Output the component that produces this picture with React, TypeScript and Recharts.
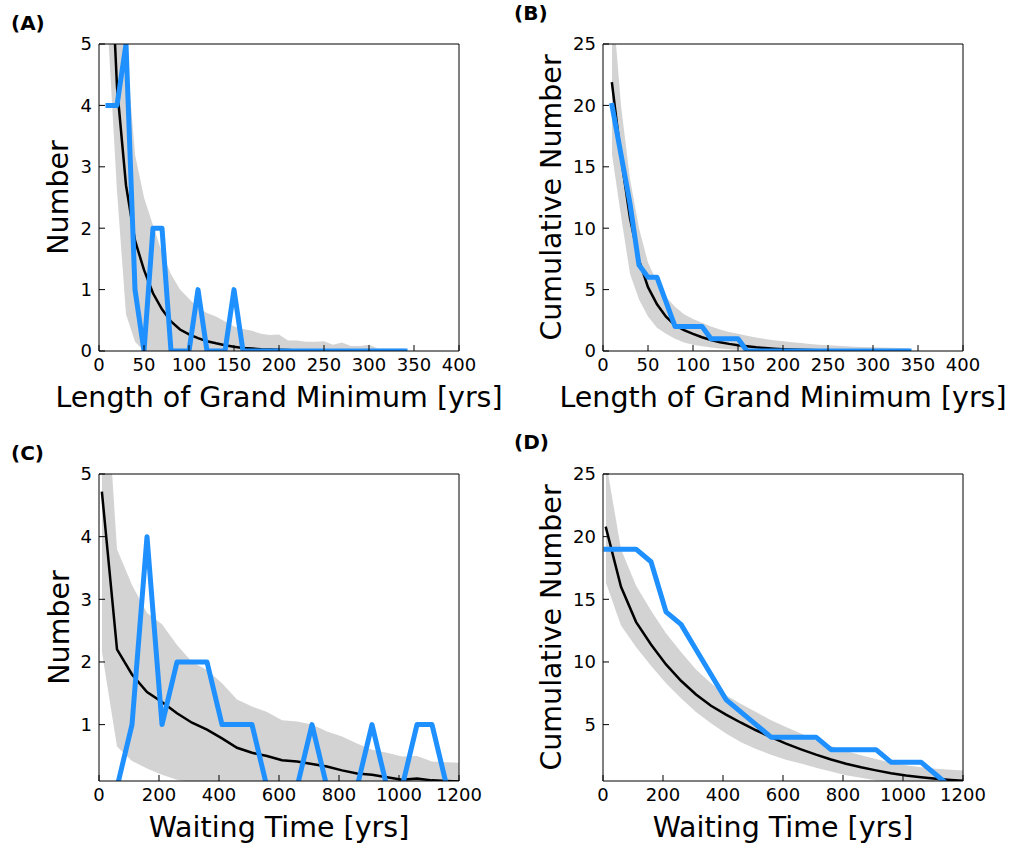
import React from "react";
import { ComposedChart, Line, Area, XAxis, YAxis, Label } from "recharts";

// grand minimum lengths (panels A, B)
const lengthYrs = [
  10, 20, 30, 40, 50, 60, 70, 80, 90, 100, 110, 120, 130, 140, 150, 160, 170,
  180, 190, 200, 210, 220, 230, 240, 250, 260, 270, 280, 290, 300, 310, 320, 330, 340,
];
const lengthObsCount = [
  4, 4, 5, 1, 0, 2, 2, 0, 0, 0, 1, 0, 0, 0, 1, 0, 0, 0, 0, 0, 0, 0, 0, 0, 0, 0,
  0, 0, 0, 0, 0, 0, 0, 0,
];
const lengthModelCount = [
  7.5, 4.3, 2.7, 1.8, 1.32, 0.94, 0.68, 0.48, 0.35, 0.27, 0.21, 0.16, 0.125,
  0.095, 0.07, 0.05, 0.04, 0.03, 0.025, 0.02, 0.015, 0.01, 0.01, 0.008, 0.006,
  0.005, 0.004, 0.003, 0.002, 0.002, 0.001, 0.001, 0.001, 0.001,
];
const lengthCountHigh = [
  9, 7, 5, 3.2, 2.5, 2.05, 1.6, 1.25, 1.0, 0.85, 0.7, 0.62, 0.56, 0.48, 0.4,
  0.36, 0.33, 0.28, 0.26, 0.27, 0.17, 0.17, 0.15, 0.15, 0.16, 0.1, 0.14, 0.08,
  0.08, 0.1, 0.04, 0.04, 0.04, 0.04,
];
const lengthCountLow = [
  5.2, 2.6, 0.6, 0.15, 0, 0, 0, 0, 0, 0, 0, 0, 0, 0, 0, 0, 0, 0, 0, 0, 0, 0, 0,
  0, 0, 0, 0, 0, 0, 0, 0, 0, 0, 0,
];
const lengthObsCum = [
  20, 16, 12, 7, 6, 6, 4, 2, 2, 2, 2, 1, 1, 1, 1, 0, 0, 0, 0, 0, 0, 0, 0, 0, 0,
  0, 0, 0, 0, 0, 0, 0, 0, 0,
];
const lengthModelCum = [
  21.8, 15.8, 10.8, 7.4, 5.2, 3.8, 2.8, 2.1, 1.7, 1.4, 1.12, 0.9, 0.72, 0.58,
  0.47, 0.38, 0.3, 0.24, 0.19, 0.15, 0.12, 0.1, 0.08, 0.06, 0.05, 0.04, 0.035,
  0.03, 0.025, 0.02, 0.015, 0.012, 0.01, 0.01,
];
const lengthCumHigh = [
  29, 20, 14, 10, 7.2, 5.6, 4.4, 3.6, 3.0, 2.6, 2.3, 2.0, 1.75, 1.55, 1.4, 1.25,
  1.1, 0.98, 0.87, 0.8, 0.72, 0.65, 0.58, 0.5, 0.46, 0.42, 0.38, 0.35, 0.32, 0.3,
  0.28, 0.26, 0.24, 0.22,
];
const lengthCumLow = [
  16, 11, 6.3, 4.2, 2.8, 1.9, 1.4, 1.0, 0.7, 0.5, 0.38, 0.28, 0.2, 0.15, 0.1,
  0.08, 0.05, 0.04, 0.03, 0.02, 0.01, 0, 0, 0, 0, 0, 0, 0, 0, 0, 0, 0, 0, 0,
];

// waiting times (panels C, D)
const waitYrs = [
  10, 60, 110, 160, 210, 260, 310, 360, 410, 460, 510, 560, 610, 660, 710, 760,
  810, 860, 910, 960, 1010, 1060, 1110, 1160, 1210,
];
const waitObsCount = [
  0, 0, 1, 4, 1, 2, 2, 2, 1, 1, 1, 0, 0, 0, 1, 0, 0, 0, 1, 0, 0, 1, 1, 0,
];
const waitModelCount = [
  4.7, 2.2, 1.8, 1.52, 1.36, 1.18, 1.03, 0.92, 0.78, 0.63, 0.55, 0.5, 0.43,
  0.41, 0.37, 0.33, 0.27, 0.22, 0.2, 0.16, 0.12, 0.14, 0.11, 0.1, 0.09,
];
const waitCountHigh = [
  7.5, 3.8, 3.23, 2.78, 2.6, 2.27, 2.0, 1.87, 1.66, 1.4, 1.29, 1.2, 1.07, 1.05,
  1.0, 0.89, 0.81, 0.7, 0.6, 0.55, 0.49, 0.5, 0.41, 0.4, 0.39,
];
const waitCountLow = [
  2.15, 0.65, 0.42, 0.3, 0.2, 0.12, 0.08, 0.05, 0.03, 0.02, 0.01, 0, 0, 0, 0,
  0, 0, 0, 0, 0, 0, 0, 0, 0, 0,
];
const waitObsCum = [
  19, 19, 19, 18, 14, 13, 11, 9, 7, 6, 5, 4, 4, 4, 4, 3, 3, 3, 3, 2, 2, 2, 1, 0,
];
const waitModelCum = [
  20.7, 16, 13.2, 11.4, 9.8, 8.5, 7.4, 6.5, 5.8, 5.15, 4.55, 4.0, 3.48, 3.03,
  2.6, 2.22, 1.88, 1.6, 1.35, 1.12, 0.94, 0.8, 0.68, 0.58, 0.5,
];
const waitCumHigh = [
  26, 19, 16.1, 14.1, 12.3, 10.8, 9.4, 8.3, 7.35, 6.65, 6.0, 5.35, 4.8, 4.3,
  3.75, 3.3, 2.9, 2.55, 2.25, 1.95, 1.75, 1.6, 1.48, 1.4, 1.32,
];
const waitCumLow = [
  16.3, 12.9, 11.2, 9.7, 8.3, 7.1, 6.0, 5.1, 4.3, 3.6, 3.05, 2.6, 2.2, 1.9,
  1.55, 1.25, 0.95, 0.75, 0.55, 0.45, 0.35, 0.3, 0.25, 0.2, 0.15,
];

const lengthTicks = [0, 50, 100, 150, 200, 250, 300, 350, 400];
const waitTicks = [0, 200, 400, 600, 800, 1000, 1200];
const countTicksA = [0, 1, 2, 3, 4, 5];
const cumTicksB = [0, 5, 10, 15, 20, 25];
const countTicksC = [1, 2, 3, 4, 5];
const cumTicksD = [5, 10, 15, 20, 25];

const AXIS_W = 95;
const TOP = 15;
const RIGHT = 60;
const XAXIS_H = 75;
const PLOT_W = 360;
const PLOT_H = 307;
const FONT = "DejaVu Sans";

type PanelProps = {
  plotLeft: number;
  plotTop: number;
  xs: number[];
  obs: number[];
  model: number[];
  low: number[];
  high: number[];
  xDomain: [number, number];
  xTicks: number[];
  yDomain: [number, number];
  yTicks: number[];
  xTitle: string;
  yTitle: string;
  yTitleX: number;
};

function Panel(p: PanelProps) {
  const data = p.xs.map((x, i) => ({
    x,
    obs: p.obs[i],
    model: p.model[i],
    band: [p.low[i], p.high[i]],
  }));
  const left = p.plotLeft - AXIS_W;
  const top = p.plotTop - TOP;
  const tickStyle = { fill: "#000", fontSize: 18, fontFamily: FONT };
  const frame = { stroke: "#000", strokeWidth: 1 };

  return (
    <div style={{ position: "absolute", left, top }}>
      <ComposedChart
        width={AXIS_W + PLOT_W + RIGHT}
        height={TOP + PLOT_H + XAXIS_H}
        data={data}
        margin={{ top: TOP - 1, right: RIGHT - 1, left: 0, bottom: 0 }}
      >
        <XAxis
          xAxisId="b"
          dataKey="x"
          type="number"
          domain={p.xDomain}
          ticks={p.xTicks}
          interval={0}
          allowDataOverflow
          height={XAXIS_H}
          tickSize={-6}
          tickMargin={13}
          axisLine={frame}
          tickLine={frame}
          tick={tickStyle}
        >
          <Label
            content={() => (
              <text
                x={AXIS_W + PLOT_W / 2}
                y={TOP + PLOT_H + 56}
                textAnchor="middle"
                fontSize={28.5}
                fontFamily={FONT}
                fill="#000"
              >
                {p.xTitle}
              </text>
            )}
          />
        </XAxis>
        <XAxis
          xAxisId="t"
          orientation="top"
          dataKey="x"
          type="number"
          domain={p.xDomain}
          ticks={p.xTicks}
          interval={0}
          allowDataOverflow
          height={1}
          tickSize={-6}
          axisLine={frame}
          tickLine={frame}
          tick={false}
        />
        <YAxis
          yAxisId="l"
          type="number"
          domain={p.yDomain}
          ticks={p.yTicks}
          interval={0}
          allowDataOverflow
          width={AXIS_W}
          tickSize={-6}
          tickMargin={13}
          axisLine={frame}
          tickLine={frame}
          tick={tickStyle}
        >
          <Label
            content={() => {
              const bx = p.yTitleX - left;
              const cy = TOP + PLOT_H / 2;
              return (
                <text
                  x={bx}
                  y={cy}
                  transform={`rotate(-90, ${bx}, ${cy})`}
                  textAnchor="middle"
                  fontSize={28.5}
                  fontFamily={FONT}
                  fill="#000"
                >
                  {p.yTitle}
                </text>
              );
            }}
          />
        </YAxis>
        <YAxis
          yAxisId="r"
          orientation="right"
          type="number"
          domain={p.yDomain}
          ticks={p.yTicks}
          interval={0}
          allowDataOverflow
          width={1}
          tickSize={-6}
          axisLine={frame}
          tickLine={frame}
          tick={false}
        />
        <Area
          xAxisId="b"
          yAxisId="l"
          type="linear"
          dataKey="band"
          stroke="none"
          fill="#d3d3d3"
          fillOpacity={1}
          dot={false}
          activeDot={false}
          isAnimationActive={false}
        />
        <Line
          xAxisId="b"
          yAxisId="l"
          type="linear"
          dataKey="model"
          stroke="#000"
          strokeWidth={2.5}
          strokeLinecap="square"
          dot={false}
          activeDot={false}
          isAnimationActive={false}
        />
        <Line
          xAxisId="b"
          yAxisId="l"
          type="linear"
          dataKey="obs"
          stroke="#1e90ff"
          strokeWidth={5}
          strokeLinejoin="round"
          strokeLinecap="square"
          dot={false}
          activeDot={false}
          isAnimationActive={false}
        />
      </ComposedChart>
    </div>
  );
}

const letters = [
  { t: "(A)", x: 11, y: 30 },
  { t: "(B)", x: 514, y: 20 },
  { t: "(C)", x: 11, y: 460 },
  { t: "(D)", x: 514, y: 449 },
];

export default function App() {
  return (
    <div
      style={{
        position: "absolute",
        left: 0,
        top: 0,
        width: 1014,
        height: 846,
        overflow: "hidden",
        background: "#fff",
        fontFamily: FONT,
      }}
    >
      <Panel
        plotLeft={99}
        plotTop={44}
        xs={lengthYrs}
        obs={lengthObsCount}
        model={lengthModelCount}
        low={lengthCountLow}
        high={lengthCountHigh}
        xDomain={[0, 400]}
        xTicks={lengthTicks}
        yDomain={[0, 5]}
        yTicks={countTicksA}
        xTitle="Length of Grand Minimum [yrs]"
        yTitle="Number"
        yTitleX={68}
      />
      <Panel
        plotLeft={603}
        plotTop={44}
        xs={lengthYrs}
        obs={lengthObsCum}
        model={lengthModelCum}
        low={lengthCumLow}
        high={lengthCumHigh}
        xDomain={[0, 400]}
        xTicks={lengthTicks}
        yDomain={[0, 25]}
        yTicks={cumTicksB}
        xTitle="Length of Grand Minimum [yrs]"
        yTitle="Cumulative Number"
        yTitleX={561}
      />
      <Panel
        plotLeft={99}
        plotTop={474}
        xs={waitYrs}
        obs={waitObsCount}
        model={waitModelCount}
        low={waitCountLow}
        high={waitCountHigh}
        xDomain={[0, 1200]}
        xTicks={waitTicks}
        yDomain={[0.1, 5]}
        yTicks={countTicksC}
        xTitle="Waiting Time [yrs]"
        yTitle="Number"
        yTitleX={69}
      />
      <Panel
        plotLeft={603}
        plotTop={474}
        xs={waitYrs}
        obs={waitObsCum}
        model={waitModelCum}
        low={waitCumLow}
        high={waitCumHigh}
        xDomain={[0, 1200]}
        xTicks={waitTicks}
        yDomain={[0.5, 25]}
        yTicks={cumTicksD}
        xTitle="Waiting Time [yrs]"
        yTitle="Cumulative Number"
        yTitleX={561}
      />
      <svg
        width={1014}
        height={846}
        style={{ position: "absolute", left: 0, top: 0, pointerEvents: "none" }}
      >
        {letters.map((l) => (
          <text
            key={l.t}
            x={l.x}
            y={l.y}
            fontSize={20}
            fontWeight="bold"
            fontFamily={FONT}
            fill="#000"
          >
            {l.t}
          </text>
        ))}
      </svg>
    </div>
  );
}
